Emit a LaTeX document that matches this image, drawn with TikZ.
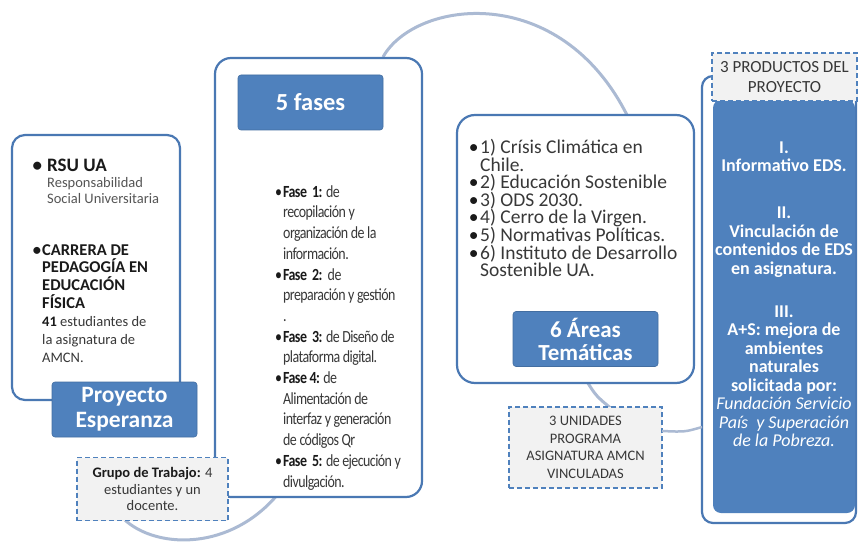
\documentclass[tikz,border=0pt]{standalone}
\usepackage{fontspec}
\usepackage{graphicx}
\setmainfont{Carlito}
\newfontfamily\condfont[LetterSpace=-4]{Carlito}
\definecolor{blueF}{HTML}{4F81BD}
\definecolor{blueL}{HTML}{4A78B3}
\definecolor{arcC}{HTML}{ABBAD3}
\definecolor{dashF}{HTML}{F2F2F2}
\definecolor{txtG}{HTML}{383838}
\definecolor{subG}{HTML}{555555}
\definecolor{txtB}{HTML}{1A1A1A}
\newcommand{\fsz}[2]{\fontsize{#1}{#2}\selectfont}
\newcommand{\tight}{\lineskiplimit=-100pt\relax}
\newcommand{\bul}{\llap{\textcolor{txtB}{•}\hspace{1.5pt}}}
\begin{document}
\begin{tikzpicture}[x=1pt,y=-1pt,
 outbox/.style={draw=blueL, line width=2.2pt, fill=white, inner sep=0pt},
 headbox/.style={fill=blueF, draw=blueF!85!black, line width=0.6pt, rounded corners=3pt, text=white, align=center, inner sep=0pt, minimum width=145, minimum height=55},
 dashbox/.style={draw=blueF, fill=dashF, dash pattern=on 5pt off 3pt, line width=1.8pt, align=center, inner sep=0pt, text=txtG},
 arcline/.style={draw=arcC, line width=3pt},
 listtxt/.style={anchor=west, inner sep=0pt, align=left, text=txtG},
 blocktxt/.style={anchor=west, inner sep=0pt, text=txtG},
]
\useasboundingbox (0,0) rectangle (858,545);

% background arcs of the cycle
\coordinate (c1) at (120,515);
\coordinate (c2) at (285,485);
\draw[arcline] (c1) .. controls (150,550) and (235,555) .. (c2);
\coordinate (c3) at (383,57);
\coordinate (c4) at (628,117);
\draw[arcline] (c3) .. controls (415,0) and (560,-20) .. (c4);
\coordinate (c5) at (586,380);
\coordinate (c6) at (613,410);
\draw[arcline] (c5) .. controls (596,396) .. (c6);

% outlined boxes
\node[outbox, rounded corners=13pt, minimum width=168, minimum height=265] (rsu) at (96,267.5) {};
\node[outbox, rounded corners=16pt, minimum width=207, minimum height=439] (fases) at (318.5,277.5) {};
\node[outbox, rounded corners=18pt, minimum width=237, minimum height=268] (areas) at (575.5,249) {};
\node[outbox, rounded corners=11pt, minimum width=154, minimum height=447] (prodout) at (779,299.5) {};
\node[fill=blueF, rounded corners=8pt, minimum width=142, minimum height=413, inner sep=0pt] (prod) at (784,306.5) {};

% headers
\node[headbox, font=\bfseries\fsz{24.5}{26}] (h5) at (310.5,102.5) {5 fases};
\node[headbox, font=\bfseries\fsz{23.5}{25}] (proy) at (124.5,409.5) {Proyecto\\Esperanza};
\node[headbox, font=\bfseries\fsz{23}{23}] (h6) at (585.5,339) {6 Áreas\\Temáticas};

% dashed boxes
\node[dashbox, minimum width=151, minimum height=63, font=\fsz{14.5}{16.8}] (grupo) at (152.5,489) {\textbf{\textcolor{txtB}{Grupo de Trabajo:}} 4\\estudiantes y un\\docente.};
\node[dashbox, minimum width=153, minimum height=81, font=\fsz{14.5}{17.6}] (unid) at (585.5,447.5) {3 UNIDADES\\PROGRAMA\\ASIGNATURA AMCN\\VINCULADAS};
\node[dashbox, minimum width=145, minimum height=48, font=\fsz{17}{20}] (prodhead) at (784.5,77) {3 PRODUCTOS DEL\\PROYECTO};

% connector unidades -> productos
\coordinate (d1) at (662,431);
\coordinate (d2) at (702,427);
\draw[arcline, line width=2.5pt] (d1) .. controls (685,432) .. (d2);

% left box texts
\node[listtxt, font=\bfseries\fsz{19}{22}, text=txtB] (rsuhead) at (47,165) {\llap{•\hspace{5pt}}RSU UA};
\node[listtxt, font=\fsz{14.5}{16.5}, text=subG] (rsusub) at (47,190.5) {Responsabilidad\\Social Universitaria};
\node[listtxt, font=\bfseries\fsz{16.5}{17.8}\tight, text=txtB] (carrera) at (42,276.5) {\llap{•\hspace{1pt}}CARRERA DE\\PEDAGOGÍA EN\\EDUCACIÓN\\FÍSICA};
\node[listtxt, font=\fsz{14.5}{18}] (estud) at (42,340) {\textbf{\textcolor{txtB}{41}} estudiantes de\\la asignatura de\\AMCN.};

% fases list
\node[blocktxt, font=\condfont\fsz{17}{20.7}] (faselist) at (283,338) {\scalebox{0.82}[1]{\begin{tabular}{@{}l@{}}
\bul\textbf{\textcolor{txtB}{Fase\ \ 1:}} de\\
recopilación y\\
organización de la\\
información.\\
\bul\textbf{\textcolor{txtB}{Fase\ \ 2:}}\ \ de\\
preparación y gestión\\
.\\
\bul\textbf{\textcolor{txtB}{Fase\ \ 3:}} de Diseño de\\
plataforma digital.\\
\bul\textbf{\textcolor{txtB}{Fase 4:}} de\\
Alimentación de\\
interfaz y generación\\
de códigos Qr\\
\bul\textbf{\textcolor{txtB}{Fase\ \ 5:}} de ejecución y\\
divulgación.
\end{tabular}}};

% areas list
\node[listtxt, font=\fsz{19.5}{17.6}\tight] (arealist) at (480,208) {\bul 1) Crísis Climática en\\Chile.\\\bul 2) Educación Sostenible\\\bul 3) ODS 2030.\\\bul 4) Cerro de la Virgen.\\\bul 5) Normativas Políticas.\\\bul 6) Instituto de Desarrollo\\Sostenible UA.};

% products text
\node[align=center, text=white, inner sep=0pt, font=\bfseries\fsz{18}{18.5}\tight] (prodtxt) at (784,294) {I.\\Informativo EDS.\\[28.5pt]II.\\Vinculación de\\contenidos de EDS\\en asignatura.\\[24.5pt]III.\\A+S: mejora de\\ambientes\\naturales\\solicitada por:\\{\mdseries\itshape Fundación Servicio}\\{\mdseries\itshape País\ \ y Superación}\\{\mdseries\itshape de la Pobreza.}};
\end{tikzpicture}
\end{document}
